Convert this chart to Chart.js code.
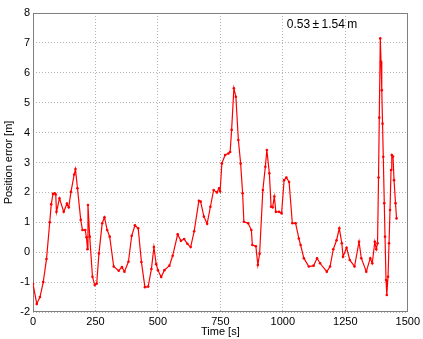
<!DOCTYPE html>
<html>
<head>
<meta charset="utf-8">
<script src="https://cdn.jsdelivr.net/npm/chart.js@4/dist/chart.umd.min.js"></script>
<style>
  html, body { margin: 0; padding: 0; background: #fff; }
  #wrap { width: 423px; height: 339px; }
</style>
</head>
<body>
<div id="wrap"><canvas id="errChart"></canvas></div>
<script>
const times = [0, 15, 28, 41, 54, 67, 73, 80, 87, 91, 94, 106, 123, 136, 143, 152, 165, 170, 178, 191, 198, 209, 214, 218, 220, 227, 238, 247, 255, 264, 277, 286, 297, 307, 323, 343, 356, 366, 382, 395, 408, 421, 434, 448, 461, 474, 484, 493, 500, 513, 526, 546, 559, 579, 592, 605, 618, 631, 645, 664, 671, 684, 697, 710, 723, 736, 745, 749, 756, 769, 782, 789, 795, 804, 812, 822, 831, 839, 844, 861, 874, 878, 892, 900, 907, 920, 930, 936, 946, 953, 959, 966, 972, 985, 995, 1005, 1014, 1025, 1038, 1051, 1064, 1071, 1084, 1104, 1123, 1137, 1149, 1176, 1189, 1202, 1215, 1226, 1236, 1241, 1255, 1268, 1287, 1305, 1314, 1334, 1350, 1358, 1368, 1374, 1379, 1383, 1386, 1390, 1393, 1396, 1399, 1402, 1406, 1409, 1413, 1416, 1421, 1425, 1429, 1433, 1436, 1441, 1445, 1451, 1455];
const errors = [-1.06, -1.73, -1.5, -1.0, -0.23, 1.0, 1.6, 1.95, 1.97, 1.93, 1.35, 1.8, 1.35, 1.63, 1.5, 2.02, 2.6, 2.78, 2.14, 1.08, 0.74, 0.74, 0.5, 0.1, 1.58, 0.52, -0.82, -1.1, -1.05, -0.04, 0.97, 1.17, 0.74, 0.52, -0.48, -0.62, -0.5, -0.65, -0.32, 0.55, 0.9, 0.8, -0.33, -1.17, -1.15, -0.56, 0.17, -0.4, -0.6, -0.83, -0.6, -0.45, -0.12, 0.6, 0.38, 0.44, 0.28, 0.17, 0.7, 1.72, 1.69, 1.19, 0.95, 1.52, 2.08, 2.0, 2.14, 2.04, 2.97, 3.25, 3.3, 3.35, 4.09, 5.48, 5.2, 3.75, 2.97, 1.97, 1.02, 0.97, 0.74, 0.24, 0.2, -0.43, -0.05, 2.08, 2.86, 3.42, 2.64, 1.52, 1.5, 1.86, 1.35, 1.35, 1.3, 2.41, 2.5, 2.35, 0.97, 0.97, 0.46, 0.24, -0.2, -0.48, -0.45, -0.2, -0.37, -0.65, -0.48, 0.1, 0.4, 0.8, 0.3, -0.15, 0.15, -0.26, -0.48, 0.35, -0.2, -0.65, -0.2, -0.37, 0.35, 0.1, 0.3, 2.5, 4.5, 7.15, 6.37, 5.42, 4.3, 3.19, 1.64, 0.52, -0.93, -1.43, -0.82, 0.3, 1.41, 2.75, 3.25, 3.2, 2.41, 1.64, 1.13];
const xTicks = [0, 250, 500, 750, 1000, 1250, 1500];
const yTicks = [-2, -1, 0, 1, 2, 3, 4, 5, 6, 7, 8];
const statLabel = '0.53\u2009\u00b1\u20091.54\u2009m';

const points = times.map((t, i) => ({ x: t, y: errors[i] }));
const fontFamily = '"Liberation Sans", Arial, sans-serif';

// text in the top right corner, placed in data units
const statText = {
    id: 'statText',
    afterDraw(chart) {
        const { ctx, scales } = chart;
        ctx.save();
        ctx.font = '12px ' + fontFamily;
        ctx.fillStyle = '#000';
        ctx.textBaseline = 'middle';
        ctx.fillText(statLabel, scales.x.getPixelForValue(1016), scales.y.getPixelForValue(7.6));
        ctx.restore();
    }
};

// solid frame round the plot, grid itself stays dotted
const frame = {
    id: 'frame',
    beforeDatasetsDraw(chart) {
        const { ctx, chartArea: a } = chart;
        ctx.save();
        ctx.strokeStyle = '#7f7f7f';
        ctx.lineWidth = 1;
        ctx.strokeRect(Math.round(a.left) + 0.5, Math.round(a.top) + 0.5,
            Math.round(a.right - a.left) - 1, Math.round(a.bottom - a.top) - 1);
        ctx.restore();
    }
};

const gridStyle = { color: '#b4b4b4', lineWidth: 1, drawTicks: false };
const dotted = { display: false, dash: [1, 2] };

new Chart(document.getElementById('errChart'), {
    type: 'scatter',
    data: {
        datasets: [{
            data: points,
            showLine: true,
            borderColor: '#ff0000',
            backgroundColor: '#ff0000',
            borderWidth: 1.2,
            pointRadius: 1.3,
            pointHoverRadius: 1.3,
            pointBorderWidth: 0
        }]
    },
    options: {
        responsive: true,
        maintainAspectRatio: false,
        animation: false,
        layout: { padding: { left: 0, right: 9, top: 13, bottom: 0 } },
        plugins: { legend: { display: false }, tooltip: { enabled: false } },
        scales: {
            x: {
                type: 'linear',
                min: 0,
                max: 1500,
                afterBuildTicks: (s) => { s.ticks = xTicks.map(v => ({ value: v })); },
                afterFit: (s) => { s.height = 27; },
                grid: gridStyle,
                border: dotted,
                ticks: {
                    color: '#000',
                    padding: 3,
                    maxRotation: 0,
                    callback: (v) => String(v),
                    font: { family: fontFamily, size: 11 }
                },
                title: {
                    display: true,
                    text: 'Time [s]',
                    color: '#000',
                    padding: 0,
                    font: { family: fontFamily, size: 11 }
                }
            },
            y: {
                min: -2,
                max: 8,
                afterBuildTicks: (s) => { s.ticks = yTicks.map(v => ({ value: v })); },
                afterFit: (s) => { s.width = 33; },
                grid: gridStyle,
                border: dotted,
                ticks: {
                    color: '#000',
                    padding: 3,
                    callback: (v) => String(v),
                    font: { family: fontFamily, size: 11 }
                },
                title: {
                    display: true,
                    text: 'Position error [m]',
                    color: '#000',
                    padding: { top: 2, bottom: 0 },
                    font: { family: fontFamily, size: 11 }
                }
            }
        }
    },
    plugins: [statText, frame]
});
</script>
</body>
</html>
